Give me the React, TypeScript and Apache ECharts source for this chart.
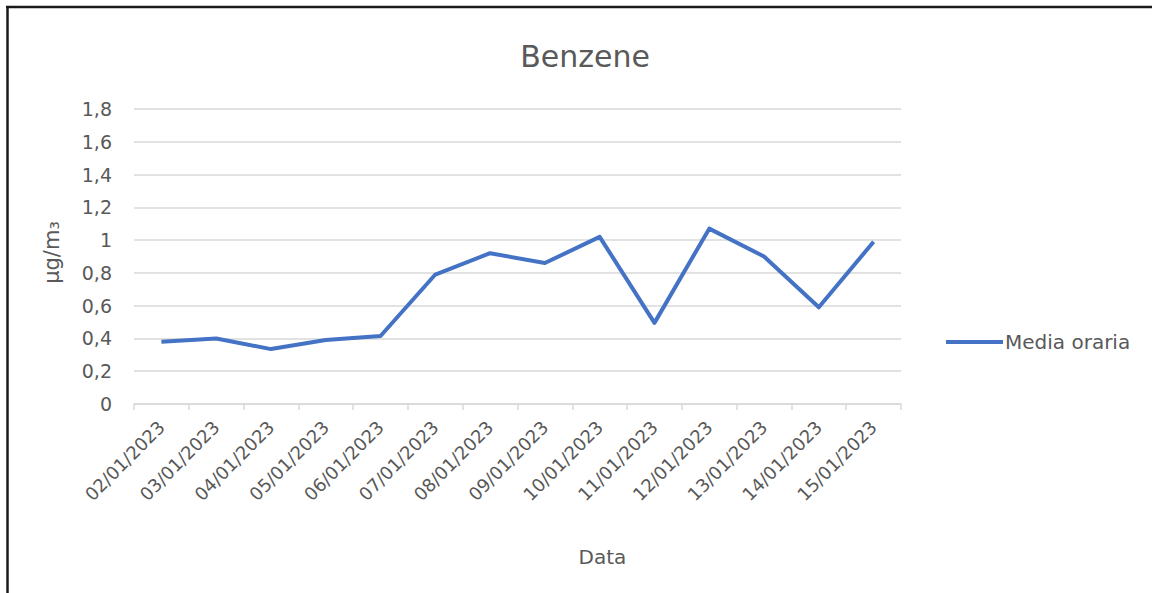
import React, { useEffect, useRef } from "react";
import * as echarts from "echarts";

const categories = [
  "02/01/2023", "03/01/2023", "04/01/2023", "05/01/2023", "06/01/2023",
  "07/01/2023", "08/01/2023", "09/01/2023", "10/01/2023", "11/01/2023",
  "12/01/2023", "13/01/2023", "14/01/2023", "15/01/2023",
];
const mediaOraria = [0.38, 0.4, 0.335, 0.39, 0.415, 0.79, 0.92, 0.86, 1.02, 0.495, 1.07, 0.9, 0.59, 0.99];
const seriesName = "Media oraria";
const titleText = "Benzene";
const yAxisName = "µg/m₃";
const xAxisName = "Data";

const FONT = "'DejaVu Sans', 'Noto Sans', sans-serif";
const TEXT = "#595959";

export default function App() {
  const ref = useRef<HTMLDivElement>(null);
  useEffect(() => {
    if (!ref.current) return;
    const chart = echarts.init(ref.current, null, { renderer: "svg" });
    chart.setOption({
      animation: false,
      backgroundColor: "#ffffff",
      title: {
        text: titleText,
        left: 580,
        top: 36,
        textAlign: "center",
        textStyle: { fontFamily: FONT, fontSize: 30, fontWeight: "normal", color: TEXT },
      },
      legend: {
        data: [seriesName],
        left: 941,
        top: 327,
        itemWidth: 57,
        itemHeight: 4,
        itemGap: 4,
        textStyle: { fontFamily: FONT, fontSize: 20, color: TEXT, padding: [0, 0, 0, -3] },
        icon: "rect",
      },
      grid: { left: 134, right: 251, top: 109, bottom: 189, containLabel: false },
      xAxis: {
        type: "category",
        data: categories,
        boundaryGap: true,
        name: xAxisName,
        nameLocation: "middle",
        nameGap: 143,
        nameTextStyle: { fontFamily: FONT, fontSize: 20, color: TEXT, padding: [0, 0, 0, 170] },
        axisLine: { lineStyle: { color: "#d9d9d9", width: 1.5 } },
        axisTick: { show: true, length: 6, lineStyle: { color: "#d9d9d9", width: 1.5 } },
        axisLabel: {
          rotate: 45,
          margin: 20,
          interval: 0,
          fontFamily: FONT,
          fontSize: 18,
          color: TEXT,
        },
      },
      yAxis: {
        type: "value",
        min: 0,
        max: 1.8,
        interval: 0.2,
        name: yAxisName,
        nameLocation: "middle",
        nameGap: 72,
        nameTextStyle: { fontFamily: FONT, fontSize: 21, color: TEXT, padding: [0, 0, 0, 8] },
        axisLine: { show: false },
        axisTick: { show: false },
        splitLine: { lineStyle: { color: "#d9d9d9", width: 1.5 } },
        axisLabel: {
          margin: 22,
          fontFamily: FONT,
          fontSize: 19,
          color: TEXT,
          formatter: (v: number) => String(Math.round(v * 10) / 10).replace(".", ","),
        },
      },
      series: [
        {
          name: seriesName,
          type: "line",
          data: mediaOraria,
          symbol: "none",
          lineStyle: { color: "#4472C4", width: 4, join: "round" },
          itemStyle: { color: "#4472C4" },
        },
      ],
      graphic: [
        { type: "line", shape: { x1: 6, y1: 7, x2: 1152, y2: 7 }, style: { stroke: "#1a1a1a", lineWidth: 2.5 } },
        { type: "line", shape: { x1: 7.5, y1: 6, x2: 7.5, y2: 593 }, style: { stroke: "#1a1a1a", lineWidth: 2.5 } },
      ],
    });
    return () => chart.dispose();
  }, []);
  return (
    <div
      ref={ref}
      style={{ position: "absolute", left: 0, top: 0, width: 1152, height: 593 }}
    />
  );
}
